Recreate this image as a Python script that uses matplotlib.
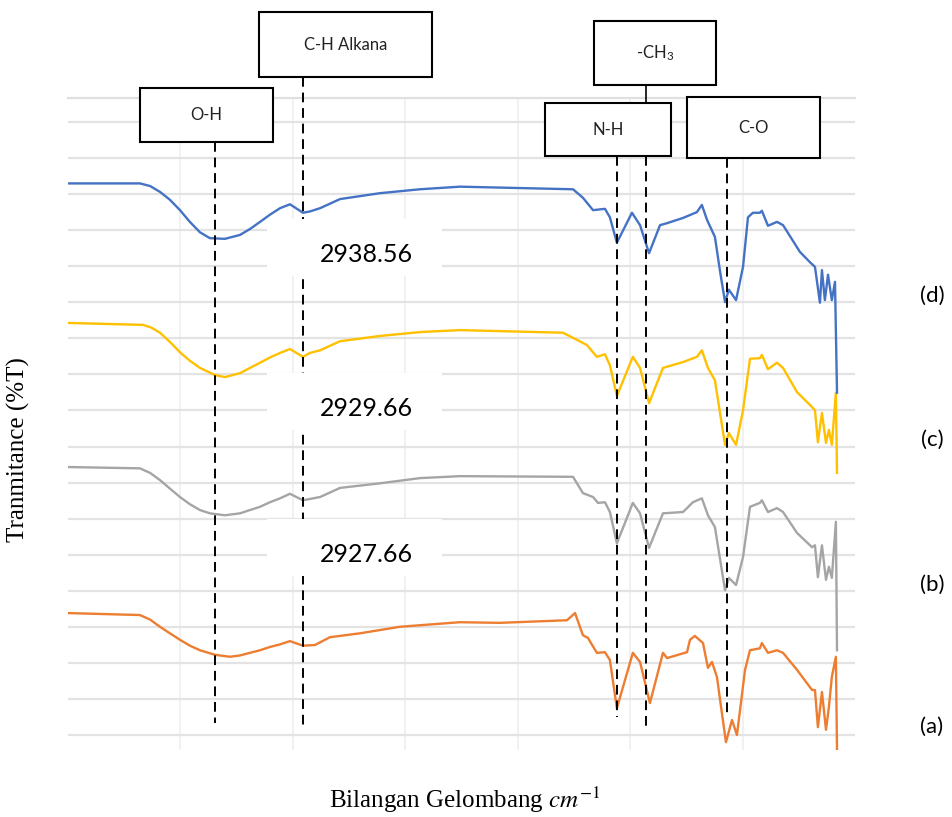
import matplotlib
matplotlib.use("Agg")
import matplotlib.pyplot as plt
from matplotlib.patches import Rectangle

plt.rcParams['mathtext.fontset'] = 'stix'

# wavenumber (cm-1) and offset transmittance readings for each sample
wn_d = [4000, 3680, 3635, 3591, 3547, 3502, 3458, 3413, 3369, 3302, 3235, 3191, 3146, 3102,
        3057, 3013, 2955, 2924, 2879, 2790, 2613, 2435, 2257, 1754, 1710, 1665, 1612, 1590,
        1559, 1492, 1456, 1416, 1367, 1336, 1265, 1203, 1181, 1158, 1123, 1101, 1078, 1061,
        1029, 998, 976, 954, 923, 914, 887, 847, 820, 745, 700, 678, 656, 647, 634, 620, 603,
        589, 580]
t_d = [86.9, 86.9, 86.5, 85.6, 84.4, 82.8, 81.0, 79.4, 78.5, 78.4, 79.0, 79.9, 81.0, 82.1,
       83.1, 83.7, 82.4, 82.6, 83.1, 84.5, 85.4, 86.0, 86.4, 86.0, 84.7, 82.8, 83.0, 81.7,
       77.8, 82.4, 80.5, 76.2, 80.5, 80.8, 81.6, 82.5, 83.6, 81.3, 78.7, 73.6, 68.7, 70.6,
       69.0, 74.1, 81.7, 82.4, 82.4, 82.7, 80.4, 81.0, 80.5, 76.4, 74.8, 74.1, 68.6, 73.6,
       69.0, 72.9, 69.0, 71.8, 54.8]

wn_c = [4000, 3666, 3630, 3591, 3547, 3502, 3458, 3413, 3346, 3302, 3235, 3191, 3146, 3102,
        3057, 3013, 2955, 2924, 2879, 2790, 2613, 2435, 2257, 1799, 1736, 1692, 1648, 1612,
        1590, 1559, 1488, 1456, 1416, 1354, 1265, 1203, 1181, 1154, 1123, 1078, 1061, 1029,
        998, 967, 923, 914, 887, 847, 820, 758, 691, 678, 665, 647, 629, 616, 603, 585, 580]
t_c = [65.5, 65.2, 64.8, 64.0, 62.6, 61.0, 59.7, 58.6, 57.5, 57.2, 57.8, 58.6, 59.4, 60.2,
       60.9, 61.5, 60.3, 60.9, 61.3, 62.7, 63.5, 64.1, 64.4, 64.0, 62.9, 62.1, 60.3, 60.7,
       59.0, 54.3, 60.3, 58.6, 53.2, 58.6, 59.5, 60.3, 61.3, 58.6, 56.7, 46.8, 48.6, 46.8,
       52.1, 60.0, 60.1, 60.6, 58.4, 59.4, 58.6, 54.9, 52.6, 52.1, 47.2, 51.7, 47.1, 49.1,
       46.8, 54.8, 42.5]

wn_b = [4000, 3680, 3635, 3591, 3547, 3502, 3458, 3413, 3369, 3302, 3235, 3191, 3146, 3102,
        3057, 3013, 2955, 2879, 2790, 2613, 2435, 2257, 1754, 1710, 1665, 1643, 1612, 1590,
        1559, 1488, 1456, 1416, 1354, 1265, 1247, 1221, 1181, 1154, 1123, 1078, 1061, 1029,
        998, 967, 923, 914, 887, 847, 820, 758, 691, 678, 665, 647, 629, 616, 603, 585, 580]
t_b = [43.4, 43.2, 42.5, 41.4, 40.1, 38.8, 37.7, 36.8, 36.3, 36.0, 36.3, 36.8, 37.3, 38.0,
       38.6, 39.3, 38.3, 38.8, 40.2, 40.9, 41.7, 42.0, 41.9, 39.4, 38.8, 37.9, 38.0, 36.5,
       31.7, 37.9, 36.3, 31.0, 36.3, 36.5, 37.1, 38.0, 38.6, 36.0, 34.2, 24.5, 26.4, 25.3,
       29.6, 37.3, 37.9, 38.3, 36.5, 37.1, 36.5, 33.3, 31.1, 31.4, 26.5, 31.4, 26.1, 28.1,
       26.4, 35.0, 15.3]

wn_a = [4000, 3680, 3635, 3591, 3547, 3502, 3458, 3413, 3346, 3280, 3235, 3191, 3146, 3102,
        3057, 3013, 2955, 2902, 2835, 2701, 2524, 2257, 2079, 1781, 1745, 1710, 1688, 1648,
        1612, 1590, 1559, 1488, 1456, 1412, 1354, 1336, 1247, 1234, 1212, 1176, 1154, 1136,
        1114, 1074, 1047, 1025, 989, 967, 923, 914, 887, 847, 820, 758, 691, 678, 665, 647,
        629, 616, 603, 585, 580]
t_a = [21.0, 20.7, 20.0, 18.9, 17.9, 16.9, 16.0, 15.3, 14.6, 14.3, 14.5, 14.9, 15.3, 15.8,
       16.2, 16.7, 16.0, 16.1, 17.3, 17.9, 18.9, 19.6, 19.5, 19.9, 21.0, 17.6, 17.2, 14.9,
       15.0, 13.8, 6.4, 14.9, 13.5, 7.2, 14.9, 14.1, 15.0, 16.9, 17.5, 16.4, 12.6, 13.5,
       11.2, 1.2, 4.6, 2.3, 12.3, 15.3, 15.6, 16.4, 14.9, 15.3, 14.9, 12.3, 9.2, 9.2, 3.5,
       8.9, 3.1, 6.6, 11.2, 14.3, 0.0]

sample_labels = ['(d)', '(c)', '(b)', '(a)']
peak_values = ['2938.56', '2929.66', '2927.66']

# band markers: label, wavenumber
band_oh = ('O-H', 3346)
band_ch = ('C-H Alkana', 2955)
band_nh = ('N-H', 1559)
band_ch3 = ('-CH$_\\mathregular{3}$', 1430)
band_co = ('C-O', 1070)

W, H = 953, 817
fig = plt.figure(figsize=(W / 100, H / 100), dpi=100)
ax = fig.add_axes([68 / W, (H - 750) / H, 787 / W, 652 / H])

colors = {'a': '#ED7D31', 'b': '#A5A5A5', 'c': '#FFC000', 'd': '#4472C4'}
ax.plot(wn_a, t_a, color=colors['a'], lw=1.7, zorder=3)
ax.plot(wn_b, t_b, color=colors['b'], lw=1.7, zorder=3)
ax.plot(wn_c, t_c, color=colors['c'], lw=1.7, zorder=3)
ax.plot(wn_d, t_d, color=colors['d'], lw=1.7, zorder=3)

ax.set_xlim(4000, 500)
ax.set_ylim(0, 100)
ax.set_xticks(range(3500, 500, -500))
ax.set_yticks([2.3 + 5.531 * k for k in range(18)])
ax.grid(axis='y', color='#E3E3E3', lw=1.6)
ax.grid(axis='x', color='#EFEFEF', lw=1.2)
ax.set_axisbelow(True)
ax.tick_params(length=0, labelbottom=False, labelleft=False)
for s in ['left', 'right', 'bottom']:
    ax.spines[s].set_visible(False)
ax.spines['top'].set_color('#E0E0E0')
ax.spines['top'].set_linewidth(1.6)

# dashed marker lines
dash = dict(color='black', lw=1.4, ls=(0, (5, 3)), clip_on=False, zorder=4)
ax.plot([band_oh[1]] * 2, [93.2, 4.1], **dash)
ax.plot([band_ch[1]] * 2, [103.2, 3.8], **dash)
ax.plot([band_nh[1]] * 2, [91.1, 5.1], **dash)
ax.plot([band_ch3[1]] * 2, [91.1, 3.4], **dash)
ax.plot([band_co[1]] * 2, [90.8, 4.9], **dash)
ax.plot([band_ch3[1]] * 2, [102.0, 99.2], color='black', lw=1.2, clip_on=False, zorder=4)

# overlay in pixel coordinates for boxes and text
ov = fig.add_axes([0, 0, 1, 1], zorder=5)
ov.set_xlim(0, W)
ov.set_ylim(H, 0)
ov.axis('off')
ov.patch.set_alpha(0)

boxes = [(band_oh[0], 140, 88, 133, 54),
         (band_ch[0], 259, 12, 173, 65),
         (band_ch3[0], 594, 21, 122, 64),
         (band_nh[0], 545, 103, 126, 53),
         (band_co[0], 687, 97, 133, 61)]
for label, x0, y0, w, h in boxes:
    ov.add_patch(Rectangle((x0, y0), w, h, facecolor='white', edgecolor='black', lw=1.5))
    ov.text(x0 + w / 2, y0 + h / 2, label, ha='center', va='center',
            fontsize=12, family='Lato', color='#222222')

for val, yc in zip(peak_values, [248, 402, 548]):
    ov.add_patch(Rectangle((267, yc - 29), 175, 57, facecolor='white', edgecolor='none'))
    ov.text(366, yc + 6, val, ha='center', va='center', fontsize=18, family='Lato')

for lab, yc in zip(sample_labels, [296, 440, 585, 727]):
    ov.text(932, yc, lab, ha='center', va='center', fontsize=16, family='Lato')

ov.text(18, 450, 'Tranmitance (%T)', rotation=90, ha='center', va='center',
        fontsize=18, family='Liberation Serif')
ov.text(465, 800, 'Bilangan Gelombang $cm^{-1}$', ha='center', va='center',
        fontsize=18, family='Liberation Serif')

fig.savefig('out.png', dpi=100)
